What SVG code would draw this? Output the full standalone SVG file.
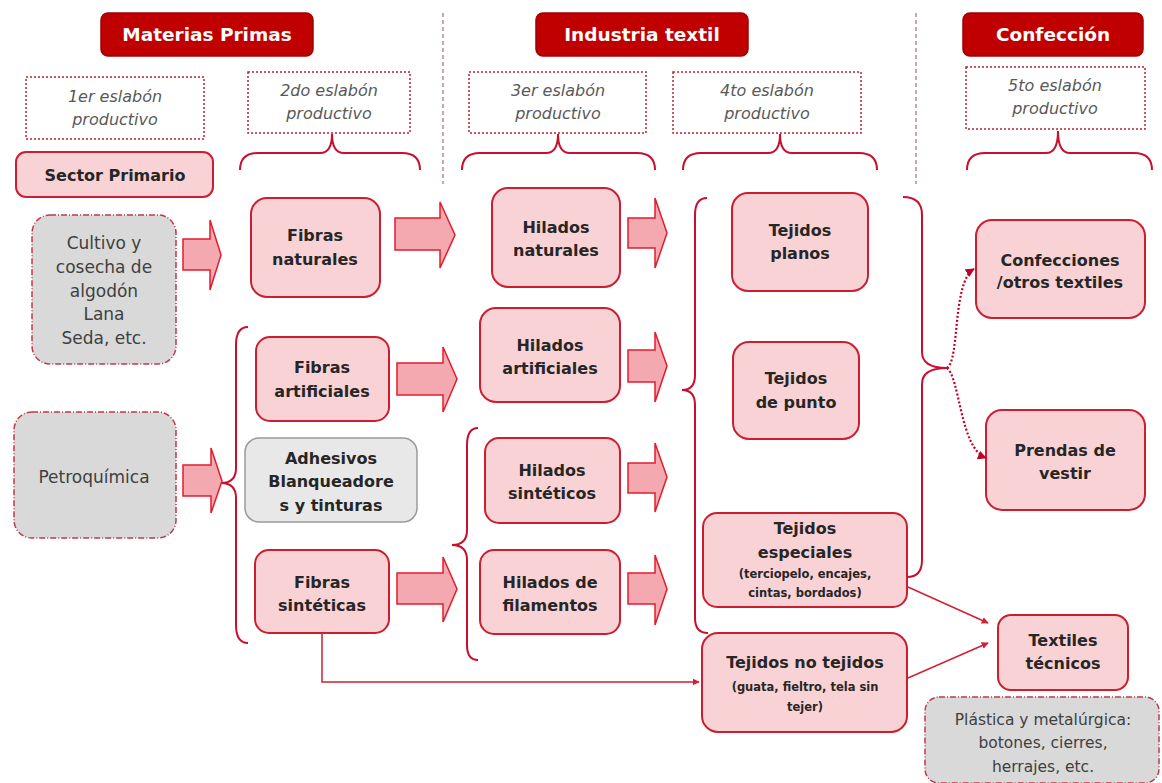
<svg xmlns="http://www.w3.org/2000/svg" width="1162" height="783" viewBox="0 0 1162 783">
<defs>
<style>
.hdr{fill:#C00000;stroke:#9E0000;stroke-width:1.5}
.hdrt{font-family:"DejaVu Sans","Liberation Sans",sans-serif;font-weight:bold;font-size:18.5px;fill:#FFFFFF;text-anchor:middle}
.lbl{fill:#FFFFFF;stroke:#B8252F;stroke-width:1.5;stroke-dasharray:2 2}
.lblt{font-family:"DejaVu Sans","Liberation Sans",sans-serif;font-style:italic;font-size:16px;fill:#595959;text-anchor:middle}
.box{fill:#F9D2D6;stroke:#CC1E30;stroke-width:2}
.bt{font-family:"DejaVu Sans","Liberation Sans",sans-serif;font-weight:bold;font-size:16px;fill:#262626;text-anchor:middle}
.st{font-family:"DejaVu Sans","Liberation Sans",sans-serif;font-weight:bold;font-size:11.5px;fill:#262626;text-anchor:middle}
.gray{fill:#D9D9D9;stroke:#C0394B;stroke-width:1.5;stroke-dasharray:6 2 1 2}
.gt{font-family:"DejaVu Sans","Liberation Sans",sans-serif;font-size:17px;fill:#404040;text-anchor:middle}
.adh{fill:#E8E8E8;stroke:#9A9A9A;stroke-width:1.5}
.barrow{fill:#F4A8B0;stroke:#E31C2D;stroke-width:1.5;stroke-linejoin:miter}
.brace{fill:none;stroke:#C8102E;stroke-width:2}
.sep{stroke:#B88A90;stroke-width:1.5;stroke-dasharray:4 3}
.conn{fill:none;stroke:#D11F34;stroke-width:1.5}
.dot{fill:none;stroke:#C0002A;stroke-width:2.2;stroke-dasharray:2 2}
</style>
<marker id="ah" viewBox="0 0 10 10" refX="9" refY="5" markerWidth="7" markerHeight="7" orient="auto" markerUnits="userSpaceOnUse">
<path d="M0,0 L10,5 L0,10 z" fill="#D11F34"/>
</marker>
<marker id="ah2" viewBox="0 0 10 10" refX="9" refY="5" markerWidth="9" markerHeight="9" orient="auto" markerUnits="userSpaceOnUse">
<path d="M0,0 L10,5 L0,10 z" fill="#C0002A"/>
</marker>
</defs>
<rect width="1162" height="783" fill="#FFFFFF"/>

<!-- separators -->
<g id="separators">
<line class="sep" x1="443" y1="13" x2="443" y2="184"/>
<line class="sep" x1="916" y1="13" x2="916" y2="184"/>
</g>

<!-- headers -->
<g id="h-materias"><rect class="hdr" x="101" y="13" width="212" height="43" rx="7"/><text class="hdrt" x="207" y="41">Materias Primas</text></g>
<g id="h-industria"><rect class="hdr" x="536" y="13" width="212" height="43" rx="7"/><text class="hdrt" x="642" y="41">Industria textil</text></g>
<g id="h-confeccion"><rect class="hdr" x="963" y="13" width="180" height="43" rx="7"/><text class="hdrt" x="1053" y="41">Confección</text></g>

<!-- eslabon labels -->
<g id="l1"><rect class="lbl" x="26" y="77" width="178" height="62"/><text class="lblt" x="115" y="102">1er eslabón</text><text class="lblt" x="115" y="125">productivo</text></g>
<g id="l2"><rect class="lbl" x="248" y="72" width="162" height="61"/><text class="lblt" x="329" y="96">2do eslabón</text><text class="lblt" x="329" y="119">productivo</text></g>
<g id="l3"><rect class="lbl" x="469" y="72" width="177" height="61"/><text class="lblt" x="558" y="96">3er eslabón</text><text class="lblt" x="558" y="119">productivo</text></g>
<g id="l4"><rect class="lbl" x="673" y="72" width="188" height="61"/><text class="lblt" x="767" y="96">4to eslabón</text><text class="lblt" x="767" y="119">productivo</text></g>
<g id="l5"><rect class="lbl" x="966" y="67" width="179" height="62"/><text class="lblt" x="1055" y="91">5to eslabón</text><text class="lblt" x="1055" y="114">productivo</text></g>

<!-- braces -->
<g id="braces">
<path class="brace" d="M240,170 Q240,153 258,153 L320,153 Q332,153 332,134 Q332,153 344,153 L402,153 Q420,153 420,170"/>
<path class="brace" d="M462,170 Q462,153 480,153 L546,153 Q558,153 558,134 Q558,153 570,153 L637,153 Q655,153 655,170"/>
<path class="brace" d="M683,170 Q683,153 701,153 L768,153 Q780,153 780,134 Q780,153 792,153 L859,153 Q877,153 877,170"/>
<path class="brace" d="M967,170 Q967,153 985,153 L1046,153 Q1058,153 1058,131 Q1058,153 1070,153 L1134,153 Q1152,153 1152,170"/>
<path class="brace" d="M248,327 Q236,327 236,345 L236,468 Q236,483 221,483 Q236,483 236,498 L236,625 Q236,643 248,643"/>
<path class="brace" d="M478,428 Q467,428 467,445 L467,530 Q467,545 452,545 Q467,545 467,560 L467,645 Q467,660 478,660"/>
<path class="brace" d="M707,198 Q695,198 695,215 L695,375 Q695,390 682,390 Q695,390 695,405 L695,618 Q695,633 708,633"/>
<path class="brace" d="M903,197 Q922,197 922,215 L922,352 Q922,368 947,368 Q922,368 922,384 L922,560 Q922,577 907,577"/>
</g>

<!-- nodes col 1 -->
<g id="sector-primario"><rect class="box" x="16" y="152" width="197" height="45" rx="10"/><text class="bt" x="115" y="181">Sector Primario</text></g>
<g id="cultivo"><rect class="gray" x="32" y="215" width="144" height="149" rx="18"/>
<text class="gt" x="104" y="249">Cultivo y</text><text class="gt" x="104" y="273">cosecha de</text><text class="gt" x="104" y="297">algodón</text><text class="gt" x="104" y="320">Lana</text><text class="gt" x="104" y="344">Seda, etc.</text></g>
<g id="petroquimica"><rect class="gray" x="14" y="412" width="162" height="126" rx="18"/><text class="gt" x="94" y="483">Petroquímica</text></g>

<!-- col 2 -->
<g id="fibras-naturales"><rect class="box" x="251" y="198" width="129" height="99" rx="16"/><text class="bt" x="315" y="241">Fibras</text><text class="bt" x="315" y="265">naturales</text></g>
<g id="fibras-artificiales"><rect class="box" x="256" y="337" width="133" height="84" rx="14"/><text class="bt" x="322" y="373">Fibras</text><text class="bt" x="322" y="397">artificiales</text></g>
<g id="adhesivos"><rect class="adh" x="245" y="438" width="172" height="84" rx="14"/><text class="bt" x="331" y="464">Adhesivos</text><text class="bt" x="331" y="487">Blanqueadore</text><text class="bt" x="331" y="511">s y tinturas</text></g>
<g id="fibras-sinteticas"><rect class="box" x="255" y="550" width="134" height="83" rx="14"/><text class="bt" x="322" y="588">Fibras</text><text class="bt" x="322" y="611">sintéticas</text></g>

<!-- col 3 -->
<g id="hilados-naturales"><rect class="box" x="492" y="188" width="128" height="99" rx="16"/><text class="bt" x="556" y="233">Hilados</text><text class="bt" x="556" y="256">naturales</text></g>
<g id="hilados-artificiales"><rect class="box" x="480" y="308" width="140" height="94" rx="16"/><text class="bt" x="550" y="351">Hilados</text><text class="bt" x="550" y="374">artificiales</text></g>
<g id="hilados-sinteticos"><rect class="box" x="485" y="438" width="135" height="85" rx="14"/><text class="bt" x="552" y="476">Hilados</text><text class="bt" x="552" y="499">sintéticos</text></g>
<g id="hilados-filamentos"><rect class="box" x="480" y="550" width="140" height="84" rx="14"/><text class="bt" x="550" y="588">Hilados de</text><text class="bt" x="550" y="611">filamentos</text></g>

<!-- col 4 -->
<g id="tejidos-planos"><rect class="box" x="732" y="193" width="136" height="98" rx="16"/><text class="bt" x="800" y="236">Tejidos</text><text class="bt" x="800" y="259">planos</text></g>
<g id="tejidos-punto"><rect class="box" x="733" y="342" width="126" height="97" rx="16"/><text class="bt" x="796" y="384">Tejidos</text><text class="bt" x="796" y="408">de punto</text></g>
<g id="tejidos-especiales"><rect class="box" x="703" y="513" width="204" height="94" rx="14"/><text class="bt" x="805" y="534">Tejidos</text><text class="bt" x="805" y="558">especiales</text><text class="st" x="805" y="578">(terciopelo, encajes,</text><text class="st" x="805" y="597">cintas, bordados)</text></g>
<g id="tejidos-no-tejidos"><rect class="box" x="702" y="633" width="205" height="99" rx="16"/><text class="bt" x="805" y="668">Tejidos no tejidos</text><text class="st" x="805" y="691">(guata, fieltro, tela sin</text><text class="st" x="805" y="711">tejer)</text></g>

<!-- col 5 -->
<g id="confecciones"><rect class="box" x="976" y="220" width="169" height="98" rx="16"/><text class="bt" x="1060" y="266">Confecciones</text><text class="bt" x="1060" y="288">/otros textiles</text></g>
<g id="prendas"><rect class="box" x="986" y="410" width="159" height="100" rx="16"/><text class="bt" x="1065" y="456">Prendas de</text><text class="bt" x="1065" y="479">vestir</text></g>
<g id="textiles-tecnicos"><rect class="box" x="998" y="615" width="130" height="75" rx="13"/><text class="bt" x="1063" y="646">Textiles</text><text class="bt" x="1063" y="669">técnicos</text></g>
<g id="plastica"><rect class="gray" x="925" y="697" width="234" height="86" rx="14"/><text class="gt" x="1043" y="725" style="font-size:15.5px">Plástica y metalúrgica:</text><text class="gt" x="1043" y="748" style="font-size:15.5px">botones, cierres,</text><text class="gt" x="1043" y="772" style="font-size:15.5px">herrajes, etc.</text></g>

<!-- connectors -->
<g id="connectors">
<path class="barrow" d="M183,239 L210,239 L210,220 L221,255 L210,290 L210,270 L183,270 Z"/>
<path class="barrow" d="M183,465 L211,465 L211,448 L222,481 L211,513 L211,496 L183,496 Z"/>
<path class="barrow" d="M395,218 L440,218 L440,202 L455,235 L440,268 L440,250 L395,250 Z"/>
<path class="barrow" d="M397,363 L443,363 L443,347 L457,379 L443,412 L443,395 L397,395 Z"/>
<path class="barrow" d="M397,573 L443,573 L443,557 L457,589 L443,622 L443,604 L397,604 Z"/>
<path class="barrow" d="M628,218 L655,218 L655,198 L667,233 L655,268 L655,248 L628,248 Z"/>
<path class="barrow" d="M628,350 L655,350 L655,332 L667,366 L655,402 L655,382 L628,382 Z"/>
<path class="barrow" d="M628,463 L655,463 L655,443 L667,477 L655,512 L655,493 L628,493 Z"/>
<path class="barrow" d="M628,573 L655,573 L655,555 L667,589 L655,625 L655,604 L628,604 Z"/>
<path class="conn" d="M322,633 L322,682 L699,682" marker-end="url(#ah)"/>
<path class="conn" d="M908,587 L988,623" marker-end="url(#ah)"/>
<path class="conn" d="M908,678 L988,643" marker-end="url(#ah)"/>
<path class="dot" d="M947,368 C960,360 952,282 974,269" marker-end="url(#ah2)"/>
<path class="dot" d="M947,368 C960,378 960,448 986,458" marker-end="url(#ah2)"/>
</g>
</svg>
